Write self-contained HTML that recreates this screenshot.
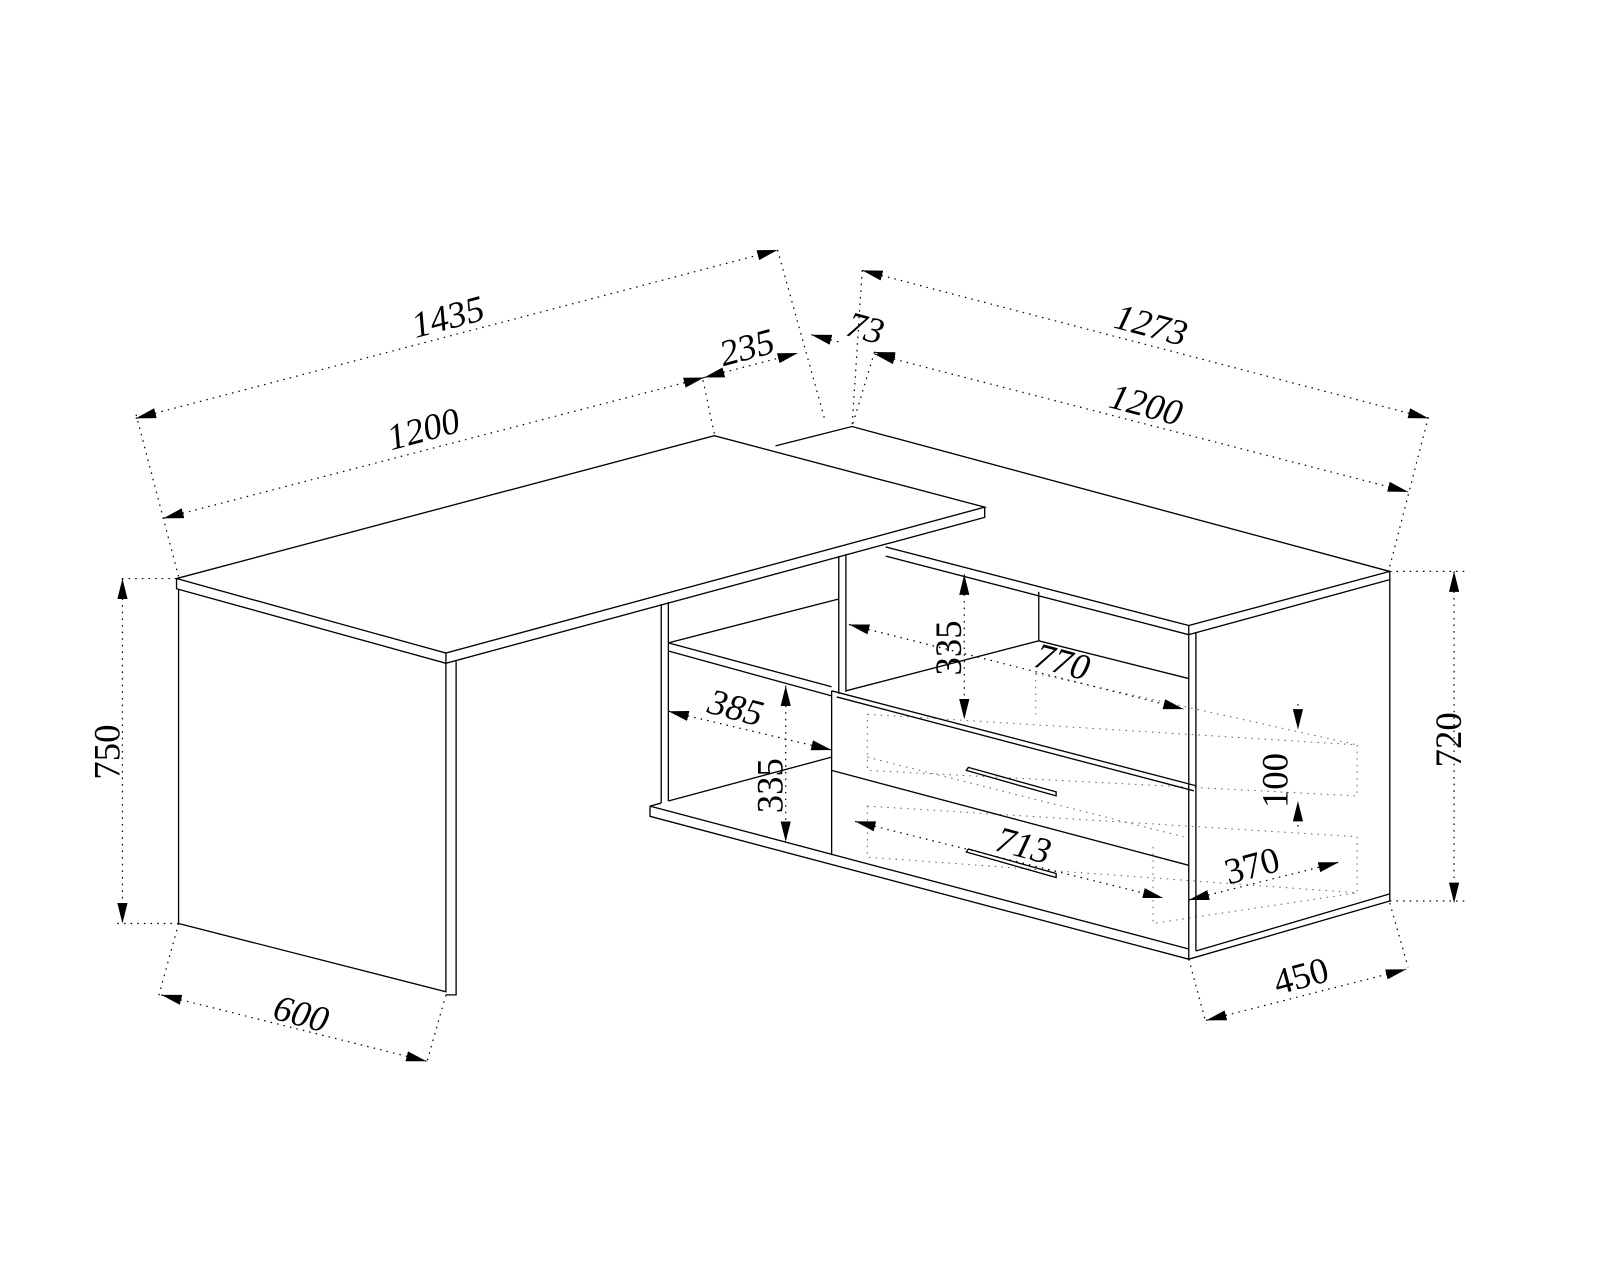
<!DOCTYPE html>
<html><head><meta charset="utf-8"><style>
html,body{margin:0;padding:0;background:#fff}
svg{display:block}
text{font-family:"Liberation Serif",serif;font-size:36px;fill:#000}
.l{stroke:#000;stroke-width:1.3;fill:none}
.d{stroke:#000;stroke-width:1.2;fill:none;stroke-dasharray:1.5 5}
.h{stroke:#666;stroke-width:1;fill:none;stroke-dasharray:1.5 5}
</style></head><body>
<svg width="1600" height="1280" viewBox="0 0 1600 1280" xmlns="http://www.w3.org/2000/svg">
<defs>
<marker id="a" viewBox="0 0 20 10" refX="20" refY="5" markerWidth="20" markerHeight="10" markerUnits="userSpaceOnUse" orient="auto-start-reverse">
<path d="M0,0 L20,5 L0,10 Z" fill="#000"/></marker>
</defs>
<g transform="scale(1.0204)">
<!-- hidden drawer boxes -->
<g class="h">
<path d="M850,700 L1330,730 L1330,780 L850,755 Z"/>
<path d="M850,742 L1160,820 M1015,660 L1015,700 M1015,660 L1330,730"/>
<path d="M850,790 L1330,820 L1330,875 L850,840 Z"/>
<path d="M1130,830 L1130,905 L1330,875"/>
</g>

<g class="l">
<path d="M173,567 L700,427 L965,497 L437,640 Z" fill="#fff"/>
<path d="M173,567 L173,577 L437,650 L965,507 L965,497"/>
<path d="M437,640 L437,650"/>
<path d="M175,577 L175,905 L437,972 L437,650"/>
<path d="M447,648 L447,975 L437,975"/>
<path d="M760,437 L835,418 L1362,560 L1165,613"/>
<path d="M868,536 L1165,613 L1165,622 L1362,568 L1362,560"/>
<path d="M868,545 L1165,622"/>
<path d="M1165,622 L1165,940 M1172,620 L1172,932 M1362,568 L1362,883 L1165,940"/>
<path d="M1172,932 L1362,876"/>
<path d="M648,592 L648,787 M655,590 L655,785"/>
<path d="M822,545 L822,680 M829,543 L829,678"/>
<path d="M1018,580 L1018,628"/>
<path d="M655,630 L822,587 M655,630 L815,673 M655,638 L815,682"/>
<path d="M829,677 L1018,628 L1165,665"/>
<path d="M655,785 L815,742"/>
<path d="M637,790 L648,787 M637,790 L637,800 L1165,940 M637,790 L1165,930"/>
<path d="M815,677 L815,838"/>
<path d="M815,677 L1172,770 M820,683 L1170,775"/>
<path d="M815,755 L1165,848"/>
<path d="M947,755 L1035,780 L1035,776 L949,752 Z"/>
<path d="M947,835 L1035,860 L1035,856 L949,832 Z"/>
</g>

<g class="d">
<path d="M175,565 L133,405 M700,425 L688,368 M762,245 L808,410"/>
<path d="M845,265 L835,418 M1362,555 L1400,408 M857,345 L835,418"/>
<path d="M173,567 L115,567 M175,905 L115,905"/>
<path d="M1362,560 L1435,560 M1362,883 L1435,883"/>
<path d="M175,905 L155,978 M437,975 L418,1042"/>
<path d="M1165,940 L1182,1003 M1362,885 L1380,948"/>
</g>

<g class="d">
<path d="M133,410 L762,245" marker-start="url(#a)" marker-end="url(#a)"/>
<path d="M160,508 L690,370" marker-start="url(#a)" marker-end="url(#a)"/>
<path d="M690,370 L782,346" marker-start="url(#a)" marker-end="url(#a)"/>
<path d="M795,328 L822,335" marker-start="url(#a)"/>
<path d="M857,345 L880,351" marker-start="url(#a)"/>
<path d="M845,265 L1400,410" marker-start="url(#a)" marker-end="url(#a)"/>
<path d="M857,347 L1380,482" marker-start="url(#a)" marker-end="url(#a)"/>
<path d="M120,567 L120,905" marker-start="url(#a)" marker-end="url(#a)"/>
<path d="M1425,560 L1425,885" marker-start="url(#a)" marker-end="url(#a)"/>
<path d="M158,975 L418,1040" marker-start="url(#a)" marker-end="url(#a)"/>
<path d="M1182,1000 L1378,950" marker-start="url(#a)" marker-end="url(#a)"/>
<path d="M945,563 L945,705" marker-start="url(#a)" marker-end="url(#a)"/>
<path d="M832,612 L1160,695" marker-start="url(#a)" marker-end="url(#a)"/>
<path d="M655,697 L815,735" marker-start="url(#a)" marker-end="url(#a)"/>
<path d="M770,672 L770,825" marker-start="url(#a)" marker-end="url(#a)"/>
<path d="M1272,690 L1272,715" marker-end="url(#a)"/>
<path d="M1272,810 L1272,785" marker-end="url(#a)"/>
<path d="M838,805 L1140,880" marker-start="url(#a)" marker-end="url(#a)"/>
<path d="M1165,882 L1312,845" marker-start="url(#a)" marker-end="url(#a)"/>
</g>

<g font-style="italic">
<text transform="translate(442,322) rotate(-15)" text-anchor="middle">1435</text>
<text transform="translate(418,432) rotate(-15)" text-anchor="middle">1200</text>
<text transform="translate(735,352) rotate(-15)" text-anchor="middle">235</text>
<text transform="translate(845,333) rotate(15)" text-anchor="middle">73</text>
<text transform="translate(1125,330) rotate(15)" text-anchor="middle">1273</text>
<text transform="translate(1120,408) rotate(15)" text-anchor="middle">1200</text>
<text transform="translate(292,1005) rotate(15)" text-anchor="middle">600</text>
<text transform="translate(1038,660) rotate(15)" text-anchor="middle">770</text>
<text transform="translate(718,705) rotate(15)" text-anchor="middle">385</text>
<text transform="translate(1000,840) rotate(15)" text-anchor="middle">713</text>
</g>
<text transform="translate(1278,968) rotate(-15)" text-anchor="middle">450</text>
<text transform="translate(1230,860) rotate(-15)" text-anchor="middle">370</text>
<text transform="translate(117,737) rotate(-90)" text-anchor="middle">750</text>
<text transform="translate(1432,725) rotate(-90)" text-anchor="middle">720</text>
<text transform="translate(942,635) rotate(-90)" text-anchor="middle">335</text>
<text transform="translate(767,770) rotate(-90)" text-anchor="middle">335</text>
<text transform="translate(1262,765) rotate(-90)" text-anchor="middle">100</text>
</g>
</svg>
</body></html>
